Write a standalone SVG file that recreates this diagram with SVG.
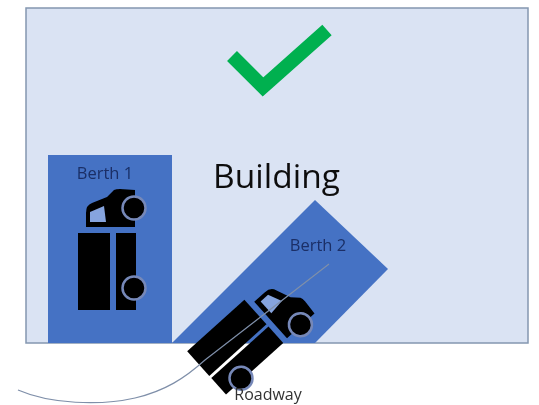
<svg xmlns="http://www.w3.org/2000/svg" width="539" height="405" viewBox="0 0 539 405">
<defs>
<style>
.berth{fill:#4472c4}
.blk{fill:#000}
.lbl{font-family:"Open Sans","Noto Sans",sans-serif;font-size:16.5px;fill:#1a2f66}
.wheel{fill:#000;stroke:#7688b8;stroke-width:2.5}
</style>
<filter id="soft" x="-5%" y="-5%" width="110%" height="110%"><feGaussianBlur stdDeviation="0.7"/></filter>
<g id="cab">
<path class="blk" d="M86 227 L86 213 Q86 205 92 203 L107 197 L114 190 Q116 189 120 189 L135 190 L135 227 Z"/>
<path d="M90 222 L90 212 L104 206 L106 222 Z" fill="#86a4de"/>
<circle class="wheel" cx="134" cy="208" r="11.5"/>
<circle class="wheel" cx="134" cy="288" r="11.5"/>
</g>
</defs>
<rect width="539" height="405" fill="#fff"/>
<g filter="url(#soft)">
<g id="building"><rect x="26" y="8" width="502" height="335" fill="#dae3f3" stroke="#8497b0" stroke-width="1.5"/></g>
<g id="berth-1"><rect class="berth" x="48" y="155" width="124" height="188"/></g>
<g id="berth-2"><polygon class="berth" points="172,343 315,200 388,269 315,343"/></g>
<g id="check"><polyline points="232,56 263,87 327,30" fill="none" stroke="#00b050" stroke-width="14"/></g>
<g id="truck-1">
<rect class="blk" x="78" y="233" width="32" height="77"/>
<rect class="blk" x="116" y="233" width="20" height="77"/>
<use href="#cab"/>
</g>
<g id="truck-2" transform="translate(226.5 337.5) rotate(48) translate(-94 -271.5)">
<rect class="blk" x="78" y="233" width="33" height="77"/>
<rect class="blk" x="114" y="233" width="22" height="77"/>
<use href="#cab"/>
</g>
<g id="connectors"><path d="M18 390 C50 404 100 406 135 398 C165 391 185 378 205 360 L329 264" fill="none" stroke="#7f8fa9" stroke-width="1.2"/></g>
<g id="labels">
<text x="276.500" y="188" text-anchor="middle" font-family="'Open Sans','Noto Sans',sans-serif" font-size="33.500" fill="#111">Building</text>
<text class="lbl" x="105" y="179" text-anchor="middle">Berth 1</text>
<text class="lbl" x="318" y="251" text-anchor="middle">Berth 2</text>
<text x="268" y="400" text-anchor="middle" font-family="'Open Sans','Noto Sans',sans-serif" font-size="16" fill="#333">Roadway</text>
</g>
</g>
</svg>
